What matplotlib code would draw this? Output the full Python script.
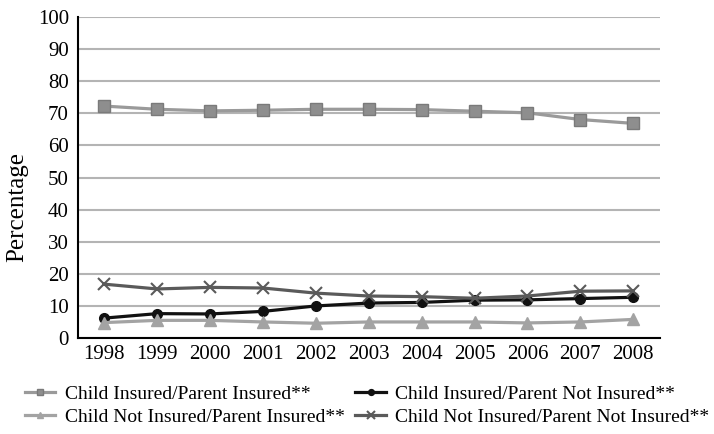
import numpy as np
import matplotlib
matplotlib.use('Agg')
import matplotlib.pyplot as plt

plt.rcParams['font.family'] = ['Liberation Serif', 'DejaVu Serif']

years = ['1998', '1999', '2000', '2001', '2002', '2003', '2004', '2005', '2006', '2007', '2008']
ins_ins = [72.3, 71.3, 70.8, 71.0, 71.3, 71.3, 71.2, 70.7, 70.2, 68.1, 66.9]
ins_not = [6.1, 7.5, 7.4, 8.2, 9.9, 10.8, 11.0, 11.7, 11.8, 12.2, 12.6]
not_ins = [4.7, 5.4, 5.4, 4.9, 4.5, 4.9, 4.9, 4.9, 4.6, 4.9, 5.7]
not_not = [16.7, 15.2, 15.7, 15.5, 13.9, 13.0, 12.8, 12.3, 13.0, 14.5, 14.6]

fig = plt.figure(figsize=(7.14, 4.34), dpi=100)
ax = fig.add_axes([0.109, 0.222, 0.815, 0.738])
x = np.arange(len(years))

l1, = ax.plot(x, ins_ins, color='#9a9a9a', lw=2.3, marker='s', ms=8,
              mfc='#8e8e8e', mec='#7a7a7a', label='Child Insured/Parent Insured**')
l2, = ax.plot(x, ins_not, color='#111111', lw=2.3, marker='o', ms=7,
              mfc='#111111', mec='#111111', label='Child Insured/Parent Not Insured**')
l3, = ax.plot(x, not_ins, color='#a3a3a3', lw=2.3, marker='^', ms=8,
              mfc='#a3a3a3', mec='#a3a3a3', label='Child Not Insured/Parent Insured**')
l4, = ax.plot(x, not_not, color='#5a5a5a', lw=2.3, marker='x', ms=9, mew=1.5,
              label='Child Not Insured/Parent Not Insured**')

ax.set_xlim(-0.5, len(years) - 0.5)
ax.set_ylim(0, 100)
ax.set_yticks(np.arange(0, 101, 10))
ax.set_xticks(x)
ax.set_xticklabels(years)
ax.tick_params(length=0, labelsize=15)
ax.tick_params(axis='y', pad=6.5)
ax.tick_params(axis='x', pad=5)
ax.yaxis.grid(True, color='#b4b4b4', lw=1.5)
ax.set_axisbelow(True)
for s in ['top', 'right']:
    ax.spines[s].set_visible(False)
ax.spines['left'].set_linewidth(1.5)
ax.spines['bottom'].set_linewidth(1.5)
fig.text(17 / 714, 1 - 207 / 434, 'Percentage', rotation=90, fontsize=18,
         ha='center', va='center')

fig.legend(handles=[l1, l3, l2, l4], ncol=2, loc='center left',
           bbox_to_anchor=(25 / 714, 1 - 405.5 / 434), frameon=False, fontsize=14,
           borderpad=0, borderaxespad=0,
           handlelength=1.55, columnspacing=0.55, labelspacing=0.3,
           handletextpad=0.5, markerscale=0.6)

fig.savefig('out.png', dpi=100)
